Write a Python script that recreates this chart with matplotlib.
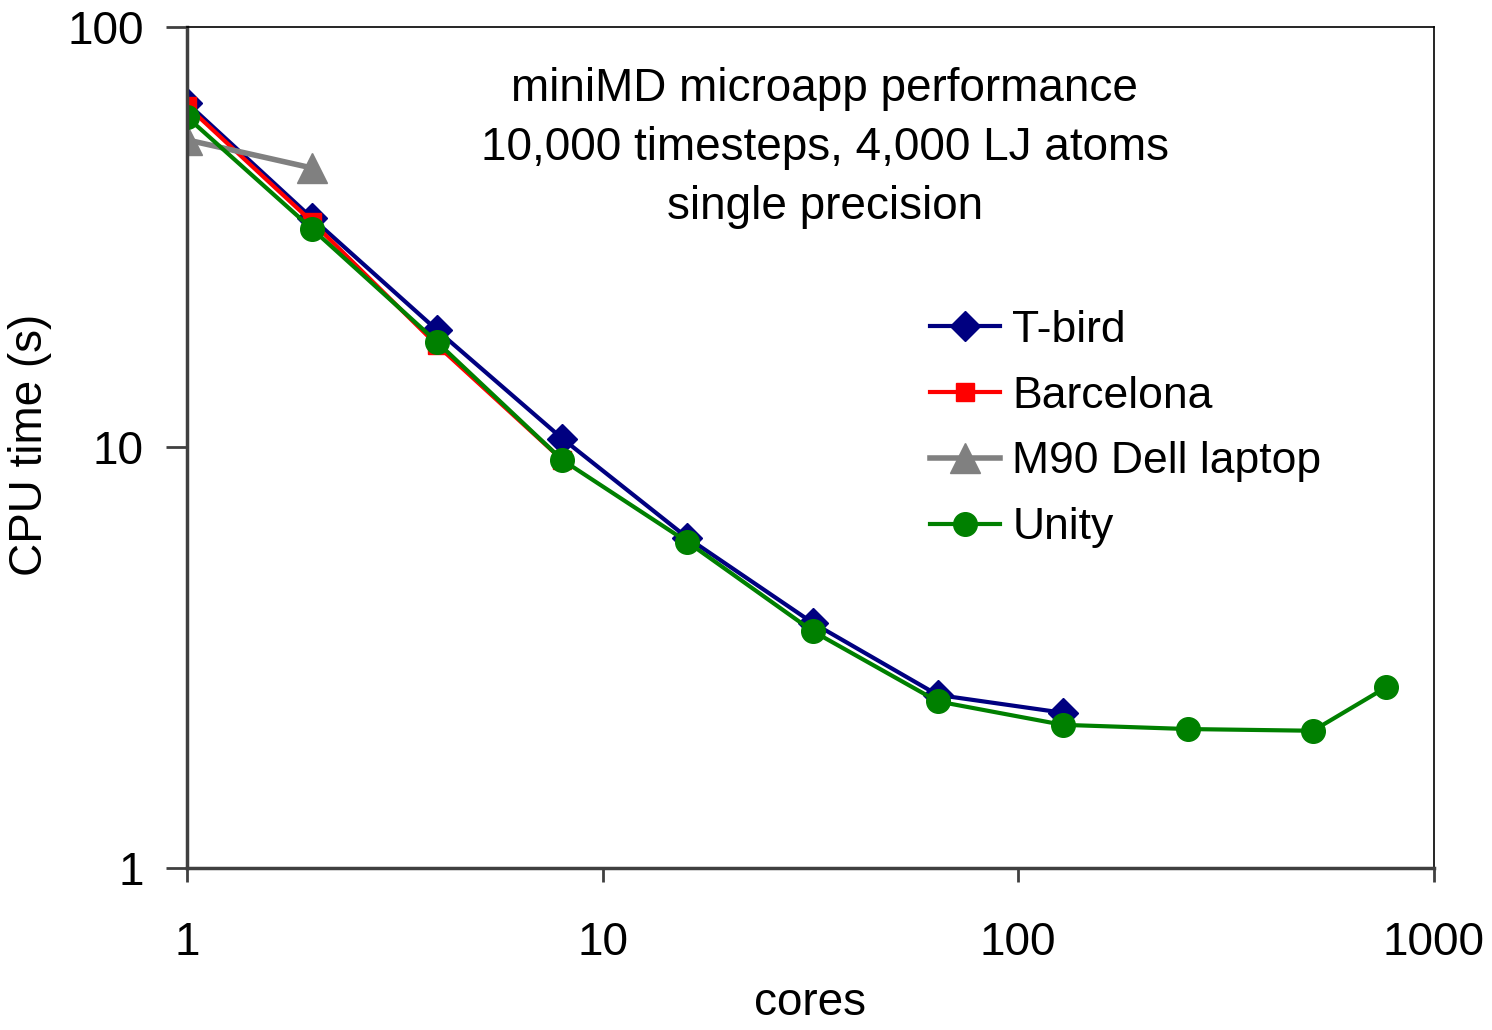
import matplotlib.pyplot as plt

plt.rcParams['font.family'] = ['Liberation Sans', 'DejaVu Sans']

cores = [1, 2, 4, 8, 16, 32, 64, 128, 256, 512, 768]
tbird = [66, 35.1, 19.0, 10.5, 6.1, 3.83, 2.58, 2.34]
barcelona = [64.9, 34.4, 17.5, 9.34]
m90 = [53.9, 46.2]
unity = [61.1, 33.1, 17.8, 9.34, 5.96, 3.66, 2.49, 2.19, 2.14, 2.12, 2.69]

fig = plt.figure(figsize=(14.92, 10.30), dpi=100)
ax = fig.add_axes([0.1253, 0.1573, 0.8357, 0.8165])

ax.plot(cores[:len(tbird)], tbird, color='#000080', lw=3, marker='D', ms=15, label='T-bird')
ax.plot(cores[:len(barcelona)], barcelona, color='#FF0000', lw=3, marker='s', ms=13, label='Barcelona')
ax.plot(cores[:len(m90)], m90, color='#808080', lw=4, marker='^', ms=21, label='M90 Dell laptop')
ax.plot(cores[:len(unity)], unity, color='#008000', lw=3, marker='o', ms=17, label='Unity')

ax.set_xscale('log')
ax.set_yscale('log')
ax.set_xlim(1, 1000)
ax.set_ylim(1, 100)
ax.set_xticks([1, 10, 100, 1000])
ax.set_xticklabels(['1', '10', '100', '1000'])
ax.set_yticks([1, 10, 100])
ax.set_yticklabels(['1', '10', '100'])
ax.minorticks_off()
ax.tick_params(axis='x', direction='out', length=10, width=2, pad=28, labelsize=33, color='#404040')
ax.tick_params(axis='y', direction='out', length=15, width=2, pad=16, labelsize=33, color='#404040')

for s in ['left', 'bottom']:
    ax.spines[s].set_linewidth(2.5)
    ax.spines[s].set_color('#404040')
for s in ['top', 'right']:
    ax.spines[s].set_linewidth(1.2)
    ax.spines[s].set_color('black')

ax.set_xlabel('cores', fontsize=33, labelpad=12)
ax.set_ylabel('CPU time (s)', fontsize=33)
ax.yaxis.set_label_coords(-0.108, 0.503)

ax.text(0.5116, 0.856, 'miniMD microapp performance\n10,000 timesteps, 4,000 LJ atoms\nsingle precision',
        transform=ax.transAxes, ha='center', va='center', fontsize=33, linespacing=1.45)

ax.legend(loc='upper left', bbox_to_anchor=(0.582, 0.685), frameon=False, fontsize=32,
          handlelength=1.57, handletextpad=0.27, labelspacing=0.56, borderaxespad=0)

fig.savefig('out.png', dpi=100)
